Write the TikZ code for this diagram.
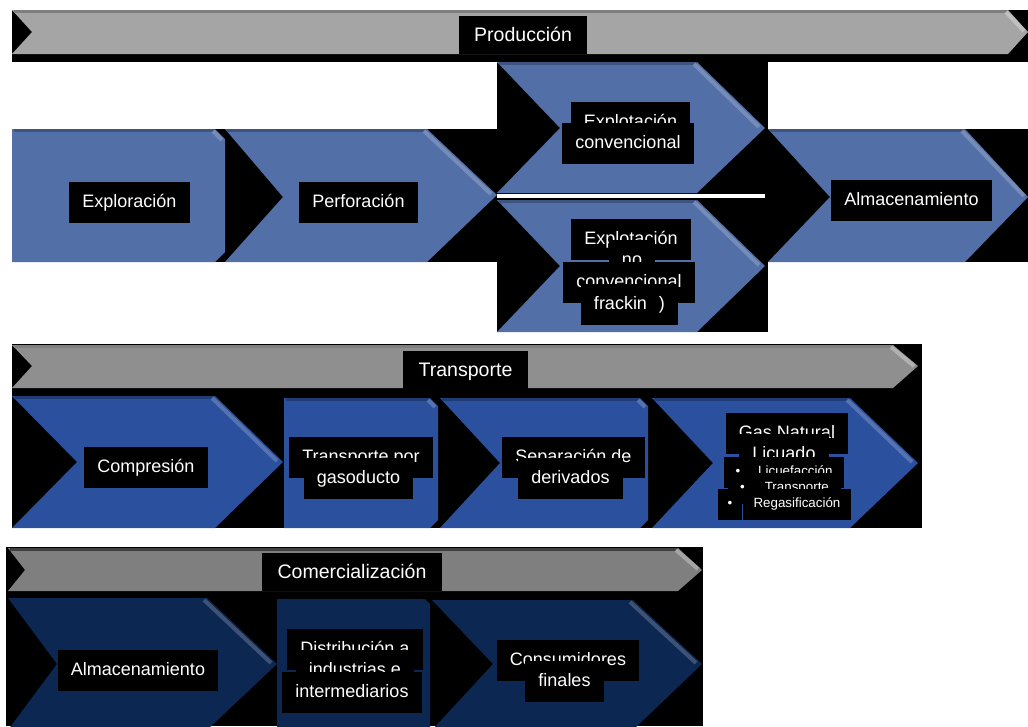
\documentclass[tikz,border=0pt]{standalone}
\usepackage{fontspec}
\setmainfont{Liberation Sans}

\definecolor{prodblue}{RGB}{83,111,167}
\definecolor{tranblue}{RGB}{42,80,158}
\definecolor{comblue}{RGB}{12,39,82}
\definecolor{bargrayA}{RGB}{165,165,165}
\definecolor{bargrayB}{RGB}{143,143,143}
\definecolor{bargrayC}{RGB}{127,127,127}

\tikzset{
  linebox/.style={fill=black, text=white, anchor=north, inner xsep=0.33cm,
    inner ysep=0pt, text height=0.62cm, text depth=0.4cm,
    font=\fontsize{12.8}{14}\selectfont},
  titlebox/.style={linebox, inner xsep=0.38cm, text height=0.64cm,
    text depth=0.31cm, font=\fontsize{13.9}{15}\selectfont},
  smallbox/.style={linebox, inner xsep=0.3cm, text height=0.465cm,
    text depth=0.31cm, font=\fontsize{9.5}{11}\selectfont},
  rim/.style={line width=0.075cm},
  shine/.style={line width=0.1cm}
}

\begin{document}
\begin{tikzpicture}[x=0.025cm, y=-0.025cm]
        \useasboundingbox (0,0) rectangle (1028,726);
        \fill[white] (0,0) rectangle (1028,726);

        % black grounds of the three groups
        \fill[black] (12,10) rectangle (1028,62);
        \fill[black] (12,129) rectangle (1028,262);
        \fill[black] (497,62) rectangle (768,332);
        \fill[black] (12,344) rectangle (922,528);
        \fill[black] (6,547) rectangle (703,726);

        % banners
        \fill[bargrayA] (12,10) -- (1008,10) -- (1028,32) -- (1008,54) --
        (12,54) -- (32,32) -- cycle;
        \draw[rim, bargrayC] (14,11.5) -- (1008,11.5);
        \draw[shine, bargrayA!70!white] (1006,12) -- (1024,31);
        \fill[bargrayB] (12,345) -- (893,345) -- (918,366) -- (893,388) --
        (12,388) -- (32,366) -- cycle;
        \draw[rim, gray] (14,346.5) -- (893,346.5);
        \draw[shine, bargrayB!70!white] (891,347) -- (914,366);
        \fill[bargrayC] (8,548) -- (678,548) -- (702,570) -- (678,591) --
        (8,591) -- (25,570) -- cycle;
        \draw[rim, darkgray] (10,549.5) -- (678,549.5);
        \draw[shine, bargrayC!70!white] (676,550) -- (698,569);

        % Produccion
        \fill[prodblue] (12,129) -- (215,129) -- (225,139) -- (225,252) --
        (215,262) -- (12,262) -- cycle;
        \fill[prodblue] (225,129) -- (427,129) -- (497,195) -- (427,262) --
        (225,262) -- (283,197) -- cycle;
        \fill[prodblue] (497,62) -- (697,62) -- (765,128) -- (697,193) --
        (497,193) -- (560,128) -- cycle;
        \fill[white] (497,194) rectangle (765,198);
        \fill[prodblue] (497,200) -- (697,200) -- (765,266) -- (697,332) --
        (497,332) -- (560,266) -- cycle;
        \fill[prodblue] (768,129) -- (965,129) -- (1028,197) -- (965,262) --
        (768,262) -- (830,197) -- cycle;
        \draw[rim, prodblue!75!black] (14,130.5) -- (215,130.5)
        (227,130.5) -- (427,130.5) (499,63.5) -- (697,63.5)
        (499,201.5) -- (697,201.5) (770,130.5) -- (965,130.5);
        \draw[shine, prodblue!80!white] (213,131) -- (222,140)
        (424,131) -- (491,194) (694,64) -- (759,127) (694,202) -- (759,265)
        (962,131) -- (1024,196);

        % Transporte
        \fill[tranblue] (12,396) -- (215,396) -- (283,462) -- (215,528) --
        (12,528) -- (77,462) -- cycle;
        \fill[tranblue] (284,398) -- (430,398) -- (438,406) -- (438,520) --
        (430,528) -- (284,528) -- cycle;
        \fill[tranblue] (440,398) -- (640,398) -- (648,406) -- (648,520) --
        (640,528) -- (440,528) -- (500,463) -- cycle;
        \fill[tranblue] (652,398) -- (850,398) -- (918,463) -- (850,528) --
        (652,528) -- (713,463) -- cycle;
        \draw[rim, tranblue!75!black] (14,397.5) -- (215,397.5)
        (286,399.5) -- (430,399.5) (442,399.5) -- (640,399.5)
        (654,399.5) -- (850,399.5);
        \draw[shine, tranblue!80!white] (212,398) -- (277,461)
        (428,400) -- (435,407) (638,400) -- (645,407) (847,400) -- (912,462);

        % Comercializacion
        \fill[comblue] (8,598) -- (207,598) -- (277,664) -- (207,730) --
        (8,730) -- (57,664) -- cycle;
        \fill[comblue] (277,599) -- (425,599) -- (430,604) -- (430,730) --
        (277,730) -- cycle;
        \fill[comblue] (432,600) -- (633,600) -- (702,664) -- (633,730) --
        (432,730) -- (493,664) -- cycle;
        \draw[shine, comblue!80!white] (204,600) -- (271,663)
        (630,602) -- (696,663);

        \node[titlebox] (prod) at (523,16) {Producción};
        \node[linebox] (explor) at (129.5,182) {Exploración};
        \node[linebox] (perfor) at (358.5,182) {Perforación};
        \node[linebox] (convA) at (630.5,102) {Explotación};
        \node[linebox] (convB) at (628,123) {convencional};
        \node[linebox] (noconvA) at (631,219) {Explotación};
        \node[linebox] (noconvB) at (632,240) {no};
        \node[linebox] (noconvC) at (629,262) {convencional};
        \node[linebox] (noconvD) at (629.5,284) {frackin\hspace{0.3cm})};
        \node[linebox] (almacA) at (911.5,180) {Almacenamiento};

        \node[titlebox] (trans) at (465.5,351) {Transporte};
        \node[linebox] (compr) at (146,447) {Compresión};
        \node[linebox] (gasodA) at (361,437) {Transporte por};
        \node[linebox] (gasodB) at (358.5,458) {gasoducto};
        \node[linebox] (separA) at (573.5,437) {Separación de};
        \node[linebox] (separB) at (570.5,458) {derivados};
        \node[linebox] (gnlA) at (787,413) {Gas Natural};
        \node[linebox] (gnlB) at (784,434) {Licuado};
        \node[smallbox] (gnlC) at (784,457) {•\hspace{0.45cm}Licuefacción};
        \node[smallbox] (gnlD) at (784.5,473) {•\hspace{0.5cm}Transporte};
        \node[smallbox, inner xsep=0.24cm] (gnlE) at (730,489) {•};
        \node[smallbox, inner xsep=0.26cm] (gnlF) at (797,489) {Regasificación};

        \node[titlebox] (comer) at (352,553) {Comercialización};
        \node[linebox] (almacB) at (138,650) {Almacenamiento};
        \node[linebox] (distA) at (355,629) {Distribución a};
        \node[linebox] (distB) at (355,650) {industrias e};
        \node[linebox] (distC) at (352,672) {intermediarios};
        \node[linebox] (consA) at (568,640) {Consumidores};
        \node[linebox] (consB) at (564.5,661) {finales};
      \end{tikzpicture}
\end{document}
